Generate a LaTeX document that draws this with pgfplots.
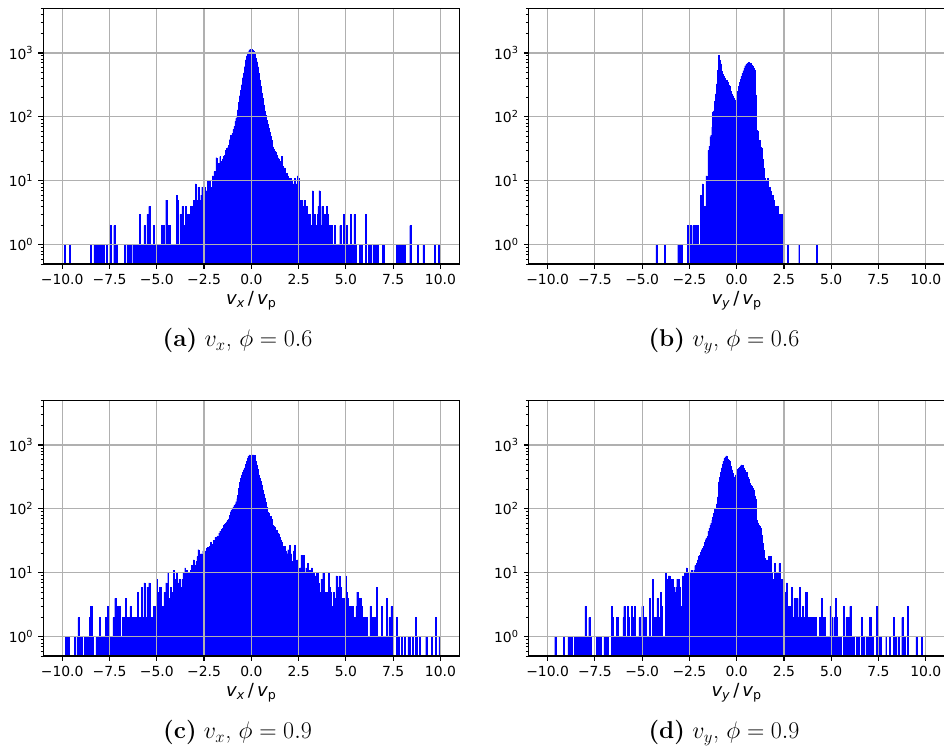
\documentclass[border=0pt]{standalone}
\usepackage{fontspec}
\usepackage{pgfplots}
\pgfplotsset{compat=1.18}
\newfontfamily\dejavu{DejaVu Sans}
\definecolor{gridgray}{HTML}{B0B0B0}
\pgfplotsset{
  histax/.style={
    scale only axis, width=299.52pt, height=184.1pt,
    axis on top,
    xmajorgrids, ymajorgrids,
    major grid style={line width=0.8pt, draw=gridgray},
    axis line style={line width=0.8pt, black},
    tick align=outside, tick pos=left,
    major tick length=3.5pt, minor tick length=2pt,
    major tick style={line width=0.8pt, black},
    minor tick style={line width=0.6pt, black},
    xtick={-10,-7.5,-5,-2.5,0,2.5,5,7.5,10},
    xticklabels={−10.0,−7.5,−5.0,−2.5,0.0,2.5,5.0,7.5,10.0},
    ytick={1,10,100,1000},
    yticklabels={10\textsuperscript{0},10\textsuperscript{1},10\textsuperscript{2},10\textsuperscript{3}},
    minor ytick={0.5,0.6,0.7,0.8,0.9,2,3,4,5,6,7,8,9,20,30,40,50,60,70,80,90,200,300,400,500,600,700,800,900,2000,3000,4000,5000},
    ticklabel style={font=\dejavu\fontsize{10}{12}\selectfont, inner sep=0pt},
    xticklabel shift=3.5pt, yticklabel shift=3.5pt,
    xlabel style={at={(axis description cs:0.5,0)}, anchor=base, yshift=-29.5pt, inner sep=0pt, font=\dejavu\fontsize{13}{15}\selectfont},
  },
}
\newcommand{\vxlabel}{{\itshape v\textsubscript{x}}\,/\,{\itshape v}\textsubscript{p}}
\newcommand{\vylabel}{{\itshape v\textsubscript{y}}\,/\,{\itshape v}\textsubscript{p}}
\begin{document}
\begin{tikzpicture}
% (a)
\begin{axis}[histax, xmin=-11, xmax=11, ymode=log, ymin=0.5, ymax=5000, log origin y=infty, ybar, bar width=0.05, bar shift=0pt, at={(31.18pt,-190.08pt)}, anchor=south west, xlabel={\vxlabel}]
\addplot[fill=blue, draw=blue, line width=0.15pt] coordinates {
(-9.85,1)(-9.6,1)(-8.5,1)(-8.3,1)(-8.25,1)(-8.15,1)(-8.05,1)(-7.95,1)(-7.9,1)(-7.85,1)(-7.8,1)(-7.65,1)(-7.45,2)(-7.25,2)(-7.1,1)(-6.7,1)(-6.55,1)(-6.5,1)(-6.45,1)(-6.4,1)(-6.25,1)(-6.2,1)(-6.15,1)(-6.1,1)(-6.05,1)(-5.95,1)(-5.9,3)(-5.85,1)(-5.8,1)(-5.75,1)(-5.65,2)(-5.6,1)(-5.55,1)(-5.5,3)(-5.45,2)(-5.4,4)(-5.35,1)(-5.3,1)(-5.25,1)(-5.2,1)(-5.15,2)(-5.1,1)(-5.05,1)(-5,1)(-4.9,1)(-4.85,1)(-4.8,1)(-4.75,2)(-4.7,1)(-4.65,2)(-4.6,1)(-4.55,1)(-4.5,5)(-4.45,1)(-4.4,2)(-4.35,1)(-4.3,2)(-4.25,1)(-4.2,1)(-4.15,1)(-4.1,1)(-4.05,1)(-4,1)(-3.95,6)(-3.9,5)(-3.85,1)(-3.8,1)(-3.75,3)(-3.7,3)(-3.65,4)(-3.6,2)(-3.55,2)(-3.5,2)(-3.45,4)(-3.4,2)(-3.35,3)(-3.3,3)(-3.25,2)(-3.2,4)(-3.15,4)(-3.1,3)(-3.05,5)(-3,5)(-2.95,9)(-2.9,5)(-2.85,5)(-2.8,8)(-2.75,5)(-2.7,2)(-2.65,6)(-2.6,8)(-2.55,2)(-2.5,2)(-2.45,8)(-2.4,2)(-2.35,7)
(-2.3,10)(-2.25,7)(-2.2,10)(-2.15,8)(-2.1,8)(-2.05,12)(-2,10)(-1.95,14)(-1.9,14)(-1.85,23)(-1.8,15)(-1.75,19)(-1.7,17)(-1.65,24)(-1.6,19)(-1.55,20)(-1.5,22)(-1.45,24)(-1.4,25)(-1.35,30)(-1.3,32)(-1.25,33)(-1.2,36)(-1.15,44)(-1.1,52)(-1.05,46)(-1,55)(-0.95,64)(-0.9,71)(-0.85,85)(-0.8,95)(-0.75,105)(-0.7,130)(-0.65,170)(-0.6,215)(-0.55,260)(-0.5,320)(-0.45,410)(-0.4,490)(-0.35,610)(-0.3,780)(-0.25,900)(-0.2,980)(-0.15,1050)(-0.1,1120)(-0.05,1150)(0,1140)(0.05,1120)(0.1,1080)(0.15,1010)(0.2,920)(0.25,830)(0.3,730)(0.35,610)(0.4,480)(0.45,380)(0.5,300)(0.55,240)(0.6,195)(0.65,155)(0.7,125)(0.75,105)(0.8,90)(0.85,76)(0.9,66)(0.95,58)(1,50)(1.05,44)(1.1,39)(1.15,34)(1.2,31)(1.25,29)(1.3,28)(1.35,25)(1.4,23)(1.45,22)(1.5,20)(1.55,18)(1.6,24)(1.65,17)(1.7,15)(1.75,16)(1.8,13)(1.85,13)(1.9,12)(1.95,11)(2,10)(2.05,10)(2.1,11)(2.15,10)(2.2,9)(2.25,9)(2.3,11)(2.35,8)(2.4,9)(2.45,12)(2.5,11)
(2.55,5)(2.6,5)(2.65,5)(2.7,4)(2.75,4)(2.8,5)(2.85,4)(2.9,4)(2.95,4)(3,3)(3.05,3)(3.1,3)(3.15,2)(3.2,2)(3.25,7)(3.3,3)(3.35,3)(3.4,2)(3.45,2)(3.5,3)(3.55,4)(3.6,7)(3.65,2)(3.7,2)(3.75,4)(3.8,2)(3.85,2)(3.9,3)(3.95,3)(4,4)(4.05,3)(4.1,2)(4.15,2)(4.2,2)(4.25,2)(4.3,1)(4.35,1)(4.4,2)(4.45,1)(4.5,1)(4.55,1)(4.6,1)(4.65,1)(4.7,2)(4.75,1)(4.8,1)(4.85,1)(4.9,3)(4.95,1)(5,1)(5.05,2)(5.1,1)(5.15,1)(5.2,1)(5.25,3)(5.3,1)(5.35,1)(5.4,1)(5.45,3)(5.5,1)(5.75,1)(5.85,1)(6.05,3)(6.2,1)(6.3,1)(6.45,1)(6.55,1)(6.65,1)(6.7,1)(6.95,1)(7,1)(7.7,1)(7.8,1)(7.9,1)(8,1)(8.1,1)(8.4,2)(8.8,1)(9.1,1)(9.7,1)(9.9,1)
};
\end{axis}
% (b)
\begin{axis}[histax, xmin=-11, xmax=11, ymode=log, ymin=0.5, ymax=5000, log origin y=infty, ybar, bar width=0.05, bar shift=0pt, at={(380.66pt,-190.08pt)}, anchor=south west, xlabel={\vylabel}]
\addplot[fill=blue, draw=blue, line width=0.15pt] coordinates {
(-4.25,1)(-3.8,1)(-3.1,1)(-3.05,1)(-3,1)(-2.9,1)(-2.6,2)(-2.5,2)(-2.45,2)(-2.4,1)(-2.3,2)(-2.25,2)(-2.2,1)(-2.15,2)(-2.1,2)(-2.05,2)(-2,1)(-1.95,1)(-1.9,6)(-1.85,3)(-1.8,9)(-1.75,4)(-1.7,4)(-1.65,4)(-1.6,12)(-1.55,11)(-1.5,30)(-1.45,35)(-1.4,49)(-1.35,52)(-1.3,69)(-1.25,120)(-1.2,125)(-1.15,175)(-1.1,230)(-1.05,330)(-1,540)(-0.95,920)(-0.9,780)(-0.85,680)(-0.8,520)(-0.75,470)(-0.7,430)(-0.65,400)(-0.6,380)(-0.55,370)(-0.5,350)(-0.45,320)(-0.4,300)(-0.35,280)(-0.3,250)(-0.25,230)(-0.2,215)(-0.15,195)(-0.1,185)(-0.05,180)(0,240)(0.05,250)(0.1,300)(0.15,350)(0.2,390)(0.25,430)(0.3,480)(0.35,530)(0.4,580)(0.45,630)(0.5,660)(0.55,680)(0.6,700)(0.65,720)(0.7,700)(0.75,690)(0.8,650)(0.85,620)(0.9,580)(0.95,540)(1,220)(1.05,62)(1.1,60)(1.15,43)(1.2,43)(1.25,34)(1.3,33)(1.35,22)(1.4,16)(1.45,14)(1.5,11)(1.55,10)(1.6,9)(1.65,11)(1.7,4)(1.75,8)(1.8,7)(1.85,6)(1.9,6)(1.95,5)(2,1)(2.05,4)(2.1,2)(2.15,4)(2.2,3)(2.25,3)(2.3,3)(2.35,3)(2.4,3)(2.45,3)(2.7,1)(3.3,1)(4.25,1)
};
\end{axis}
% (c)
\begin{axis}[histax, xmin=-11, xmax=11, ymode=log, ymin=0.5, ymax=5000, log origin y=infty, ybar, bar width=0.05, bar shift=0pt, at={(31.18pt,-472.32pt)}, anchor=south west, xlabel={\vxlabel}]
\addplot[fill=blue, draw=blue, line width=0.15pt] coordinates {
(-9.8,1)(-9.75,1)(-9.65,1)(-9.35,1)(-9.2,1)(-9.15,2)(-9.1,1)(-9.05,1)(-8.95,1)(-8.8,1)(-8.75,1)(-8.7,1)(-8.6,1)(-8.55,2)(-8.5,3)(-8.45,3)(-8.4,1)(-8.2,1)(-8.1,1)(-8,2)(-7.95,1)(-7.85,1)(-7.8,1)(-7.7,2)(-7.6,3)(-7.55,2)(-7.45,1)(-7.4,1)(-7.3,2)(-7.25,1)(-7.2,4)(-7.15,2)(-7.1,1)(-7.05,3)(-6.95,3)(-6.9,1)(-6.85,1)(-6.8,2)(-6.75,1)(-6.7,2)(-6.65,4)(-6.6,2)(-6.55,1)(-6.5,2)(-6.45,1)(-6.4,3)(-6.35,2)(-6.3,2)(-6.25,1)(-6.2,1)(-6.15,2)(-6.1,2)(-6.05,1)(-6,5)(-5.95,2)(-5.9,1)(-5.85,2)(-5.8,6)(-5.75,2)(-5.7,1)(-5.65,7)(-5.6,2)(-5.55,2)(-5.5,6)(-5.45,2)(-5.4,7)(-5.35,2)(-5.3,1)(-5.25,2)(-5.2,2)(-5.15,3)(-5.1,3)(-5.05,2)(-5,8)(-4.95,4)(-4.9,5)(-4.85,6)(-4.8,6)(-4.75,3)(-4.7,2)(-4.65,3)(-4.6,5)(-4.55,4)(-4.5,7)(-4.45,4)(-4.4,10)(-4.35,4)(-4.3,3)(-4.25,6)(-4.2,4)(-4.15,5)(-4.1,11)(-4.05,8)(-4,6)(-3.95,10)(-3.9,7)(-3.85,4)(-3.8,8)(-3.75,5)(-3.7,6)(-3.65,8)(-3.6,10)(-3.55,7)(-3.5,12)(-3.45,9)(-3.4,11)(-3.35,8)(-3.3,10)(-3.25,10)(-3.2,11)(-3.15,13)(-3.1,12)(-3.05,16)(-3,13)(-2.95,12)(-2.9,15)(-2.85,18)(-2.8,23)(-2.75,20)(-2.7,16)(-2.65,20)(-2.6,18)(-2.55,22)(-2.5,20)(-2.45,15)(-2.4,22)(-2.35,24)(-2.3,25)(-2.25,21)(-2.2,26)(-2.15,30)(-2.1,28)(-2.05,27)(-2,32)(-1.95,31)(-1.9,36)(-1.85,34)(-1.8,38)(-1.75,36)(-1.7,42)(-1.65,45)(-1.6,44)(-1.55,48)(-1.5,50)(-1.45,55)(-1.4,58)(-1.35,60)(-1.3,63)(-1.25,66)(-1.2,70)(-1.15,80)(-1.1,90)(-1.05,95)(-1,100)(-0.95,108)(-0.9,115)(-0.85,120)(-0.8,130)(-0.75,145)(-0.7,165)(-0.65,210)(-0.6,260)(-0.55,300)(-0.5,340)(-0.45,370)(-0.4,410)(-0.35,440)(-0.3,500)(-0.25,560)(-0.2,620)(-0.15,670)(-0.1,700)(-0.05,690)(0,700)
(0.05,700)(0.1,700)(0.15,690)(0.2,650)(0.25,560)(0.3,480)(0.35,420)(0.4,340)(0.45,300)(0.5,270)(0.55,240)(0.6,200)(0.65,170)(0.7,150)(0.75,130)(0.8,105)(0.85,90)(0.9,85)(0.95,78)(1,76)(1.05,70)(1.1,62)(1.15,56)(1.2,54)(1.25,52)(1.3,47)(1.35,46)(1.4,42)(1.45,41)(1.5,36)(1.55,33)(1.6,30)(1.65,26)(1.7,18)(1.75,26)(1.8,22)(1.85,18)(1.9,20)(1.95,23)(2,18)(2.05,27)(2.1,20)(2.15,15)(2.2,14)(2.25,22)(2.3,27)(2.35,16)(2.4,14)(2.45,16)(2.5,12)(2.55,11)(2.6,12)(2.65,19)(2.7,12)(2.75,19)(2.8,10)(2.85,8)(2.9,12)(2.95,10)(3,14)(3.05,9)(3.1,11)(3.15,10)(3.2,12)(3.25,8)(3.3,10)(3.35,6)(3.4,9)(3.45,10)(3.5,10)(3.55,7)(3.6,5)(3.65,5)(3.7,8)(3.75,6)(3.8,10)(3.85,5)(3.9,5)(3.95,5)(4,3)(4.05,5)(4.1,10)(4.15,6)(4.2,5)(4.25,3)(4.3,3)(4.35,5)(4.4,4)(4.45,4)(4.5,9)(4.55,6)(4.6,6)(4.65,9)(4.7,6)(4.75,6)(4.8,4)(4.85,3)(4.9,4)(4.95,4)(5,9)(5.05,5)(5.1,4)(5.15,1)(5.2,3)(5.25,3)(5.3,1)(5.35,3)(5.4,2)(5.45,2)(5.5,1)(5.55,3)(5.6,5)(5.65,3)(5.7,4)(5.75,1)(5.8,4)(5.85,3)(5.9,1)(5.95,2)(6,2)(6.05,2)(6.1,2)(6.15,1)(6.2,1)(6.25,1)(6.3,3)(6.35,2)(6.4,1)(6.45,2)(6.5,2)(6.55,1)(6.6,1)(6.65,6)(6.75,1)(6.85,1)(6.9,3)(6.95,1)(7.05,1)(7.15,4)(7.25,1)(7.3,2)(7.4,3)(7.5,1)(7.7,2)(7.75,1)(7.8,1)(7.95,1)(8.1,1)(8.3,1)(8.35,1)(8.55,1)(8.7,2)(8.75,1)(8.9,1)(9.25,1)(9.55,1)(9.75,2)(9.95,1)
};
\end{axis}
% (d)
\begin{axis}[histax, xmin=-11, xmax=11, ymode=log, ymin=0.5, ymax=5000, log origin y=infty, ybar, bar width=0.05, bar shift=0pt, at={(380.66pt,-472.32pt)}, anchor=south west, xlabel={\vylabel}]
\addplot[fill=blue, draw=blue, line width=0.15pt] coordinates {
(-9.6,1)(-9.15,1)(-8.9,1)(-8.85,1)(-8.75,1)(-8.55,1)(-8.5,1)(-8.45,1)(-8.4,1)(-8.3,1)(-8.25,1)(-8.2,1)(-8.1,1)(-8,3)(-7.9,1)(-7.8,2)(-7.75,1)(-7.4,1)(-7.35,1)(-7.3,1)(-7.25,1)(-7.2,1)(-7,1)(-6.95,1)(-6.9,1)(-6.85,1)(-6.6,3)(-6.55,2)(-6.45,1)(-6.35,2)(-6.3,2)(-6.2,1)(-6.1,1)(-6.05,1)(-6,2)(-5.95,3)(-5.9,1)(-5.8,1)(-5.75,3)(-5.7,2)(-5.65,1)(-5.55,3)(-5.5,2)(-5.45,1)(-5.4,3)(-5.35,1)(-5.25,1)(-5.2,1)(-5.15,2)(-5.1,1)(-5.05,1)(-5,3)(-4.95,1)(-4.9,2)(-4.85,2)(-4.8,2)(-4.75,1)(-4.7,1)(-4.65,1)(-4.6,4)(-4.55,1)(-4.5,1)(-4.45,8)(-4.4,2)(-4.35,2)(-4.3,2)(-4.25,2)(-4.2,4)(-4.15,2)(-4.1,2)(-4.05,1)(-4,5)(-3.95,3)(-3.9,1)(-3.85,1)(-3.8,1)(-3.75,10)(-3.7,2)(-3.65,8)(-3.6,9)(-3.55,9)(-3.5,8)(-3.45,5)(-3.4,8)(-3.35,6)(-3.3,5)(-3.25,5)(-3.2,6)(-3.15,8)(-3.1,7)(-3.05,8)(-3,6)(-2.95,3)(-2.9,3)(-2.85,9)(-2.8,8)(-2.75,10)(-2.7,9)(-2.65,12)(-2.6,10)(-2.55,8)(-2.5,7)(-2.45,10)(-2.4,11)(-2.35,10)(-2.3,9)(-2.25,11)(-2.2,13)(-2.15,12)(-2.1,14)(-2.05,16)(-2,18)(-1.95,19)(-1.9,21)(-1.85,23)(-1.8,24)(-1.75,26)(-1.7,30)(-1.65,33)(-1.6,35)(-1.55,37)(-1.5,45)(-1.45,50)(-1.4,56)(-1.35,60)(-1.3,67)(-1.25,75)(-1.2,85)(-1.15,98)(-1.1,100)(-1.05,120)(-1,155)(-0.95,265)(-0.9,310)(-0.85,370)(-0.8,440)(-0.75,500)(-0.7,560)(-0.65,620)(-0.6,650)(-0.55,675)(-0.5,600)(-0.45,570)(-0.4,550)(-0.35,520)(-0.3,460)(-0.25,410)(-0.2,360)(-0.15,320)(-0.1,315)(-0.05,340)(0,400)
(0.05,420)(0.1,430)(0.15,450)(0.2,470)(0.25,490)(0.3,480)(0.35,440)(0.4,410)(0.45,380)(0.5,370)(0.55,350)(0.6,310)(0.65,290)(0.7,250)(0.75,235)(0.8,225)(0.85,210)(0.9,200)(0.95,160)(1,140)(1.05,67)(1.1,60)(1.15,55)(1.2,53)(1.25,50)(1.3,39)(1.35,29)(1.4,23)(1.45,20)(1.5,17)(1.55,16)(1.6,16)(1.65,14)(1.7,18)(1.75,14)(1.8,18)(1.85,10)(1.9,8)(1.95,8)(2,14)(2.05,10)(2.1,10)(2.15,7)(2.2,10)(2.25,14)(2.3,8)(2.35,8)(2.4,5)(2.45,4)(2.5,4)(2.55,5)(2.6,4)(2.65,7)(2.7,3)(2.75,3)(2.8,3)(2.85,2)(2.9,6)(2.95,2)(3,2)(3.05,4)(3.1,4)(3.15,4)(3.2,2)(3.25,2)(3.3,4)(3.35,6)(3.4,2)(3.45,2)(3.5,3)(3.55,2)(3.6,2)(3.65,5)(3.7,5)(3.75,2)(3.8,2)(3.85,2)(3.9,2)(3.95,2)(4,2)(4.05,2)(4.1,2)(4.15,2)(4.2,1)(4.25,1)(4.35,1)(4.4,2)(4.5,4)(4.55,2)(4.6,1)(4.65,2)(4.75,1)(4.85,1)(4.95,3)(5,2)(5.05,1)(5.15,2)(5.25,4)(5.3,2)(5.4,1)(5.5,1)(5.65,3)(5.7,1)(5.8,2)(5.9,2)(6,3)(6.1,1)(6.2,1)(6.35,1)(6.45,1)(6.6,2)(6.7,1)(6.85,1)(6.95,1)(7.05,2)(7.1,2)(7.2,1)(7.4,3)(7.5,1)(7.6,1)(7.9,1)(8.1,1)(8.3,2)(8.4,1)(8.55,1)(8.75,2)(8.9,1)(9.05,3)(9.5,1)(9.8,1)
};
\end{axis}
% captions
\node[anchor=base, font=\fontsize{17.5}{20}\selectfont] at (171pt,-249.6pt) {\textbf{(a)}\ $v_x$, $\phi = 0.6$};
\node[anchor=base, font=\fontsize{17.5}{20}\selectfont] at (521.3pt,-249.6pt) {\textbf{(b)}\ $v_y$, $\phi = 0.6$};
\node[anchor=base, font=\fontsize{17.5}{20}\selectfont] at (171pt,-531.9pt) {\textbf{(c)}\ $v_x$, $\phi = 0.9$};
\node[anchor=base, font=\fontsize{17.5}{20}\selectfont] at (521.3pt,-531.9pt) {\textbf{(d)}\ $v_y$, $\phi = 0.9$};
\pgfresetboundingbox
\path[use as bounding box] (0pt,0pt) rectangle (679.68pt,-539.28pt);
\end{tikzpicture}
\end{document}
